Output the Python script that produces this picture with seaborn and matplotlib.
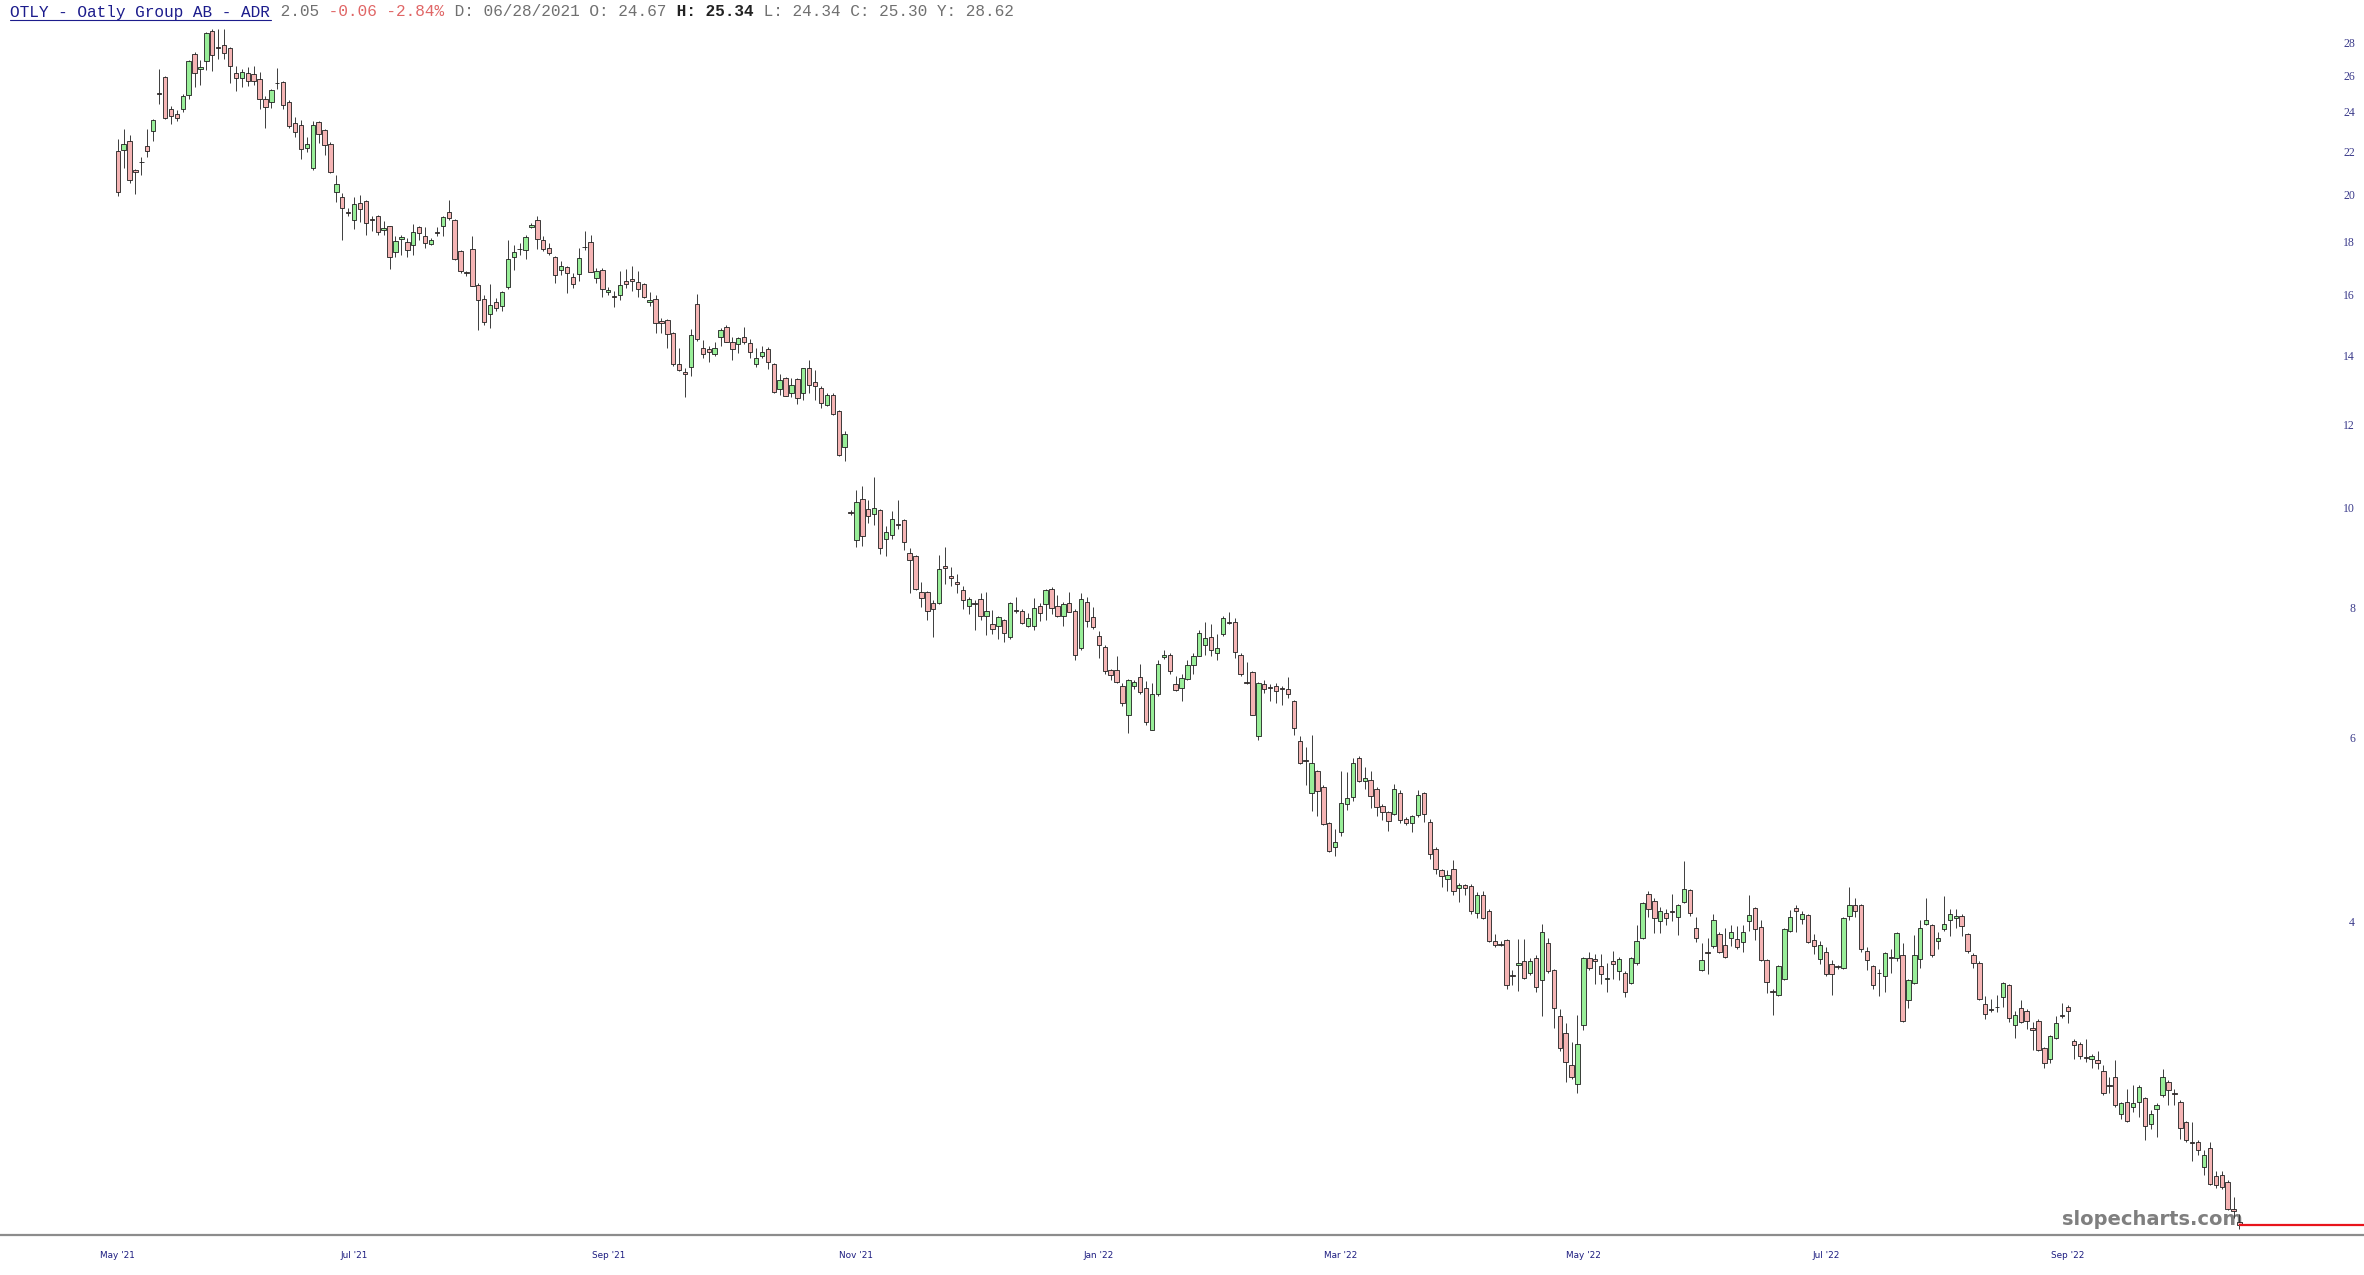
"""
OTLY daily candlesticks, log price axis, slopecharts-like layout.
"""

import numpy as np
import matplotlib
matplotlib.use("Agg")
import matplotlib.pyplot as plt
from matplotlib.ticker import FixedLocator, NullLocator, FixedFormatter
from matplotlib.lines import Line2D
import seaborn as sns

# daily OHLC, one value per trading session (May 2021 -> Oct 2022)
opens = [
    22.06, 22.14, 22.56, 21.15, 21.56, 22.32, 23.08, 25.11, 25.98, 24.21,
    23.94, 24.25, 24.98, 27.35, 26.46, 26.93, 28.80, 27.78, 27.94, 27.74,
    26.21, 25.96, 26.25, 26.17, 25.88, 24.79, 24.59, 25.69, 25.71, 24.61,
    23.50, 23.37, 22.24, 21.28, 23.54, 23.15, 22.44, 20.14, 19.96, 19.28,
    18.96, 19.68, 19.75, 19.00, 19.13, 18.52, 18.68, 17.65, 18.17, 18.03,
    17.94, 18.64, 18.30, 17.97, 18.45, 18.71, 19.28, 18.96, 17.68, 16.87,
    17.77, 16.42, 15.91, 15.39, 15.79, 15.65, 16.34, 17.45, 17.79, 17.72,
    18.66, 18.96, 18.14, 17.81, 17.46, 16.95, 17.08, 16.70, 16.81, 17.86,
    18.03, 16.67, 16.98, 16.15, 16.01, 16.04, 16.54, 16.62, 16.52, 16.44,
    15.80, 15.92, 15.16, 15.18, 14.75, 13.79, 13.54, 13.70, 15.73, 14.28,
    14.25, 14.09, 14.61, 14.96, 14.47, 14.41, 14.63, 14.42, 13.79, 14.02,
    14.25, 13.79, 13.03, 13.37, 12.91, 13.34, 12.91, 13.67, 13.24, 13.06,
    12.58, 12.86, 12.42, 11.47, 9.92, 9.33, 10.22, 10.00, 9.89, 9.98,
    9.35, 9.43, 9.66, 9.75, 9.06, 9.00, 8.31, 8.31, 8.12, 8.11,
    8.80, 8.61, 8.50, 8.35, 8.06, 8.11, 8.18, 7.89, 7.75, 7.71,
    7.81, 7.52, 7.99, 7.97, 7.71, 7.72, 8.06, 8.10, 8.37, 8.06,
    7.88, 8.11, 7.97, 7.34, 8.14, 7.86, 7.54, 7.37, 7.00, 6.99,
    6.76, 6.33, 6.75, 6.89, 6.72, 6.13, 6.63, 7.20, 7.23, 6.78,
    6.73, 6.86, 7.07, 7.22, 7.39, 7.53, 7.26, 7.57, 7.79, 7.78,
    7.24, 6.81, 6.96, 6.05, 6.79, 6.74, 6.75, 6.72, 6.71, 6.53,
    5.98, 5.73, 5.33, 5.59, 5.40, 4.99, 4.73, 4.89, 5.20, 5.28,
    5.76, 5.47, 5.49, 5.38, 5.18, 5.11, 5.09, 5.33, 5.03, 4.99,
    5.08, 5.33, 5.00, 4.71, 4.49, 4.41, 4.50, 4.32, 4.35, 4.34,
    4.09, 4.25, 4.10, 3.84, 3.815, 3.85, 3.56, 3.64, 3.67, 3.58,
    3.70, 3.52, 3.82, 3.60, 3.25, 3.13, 2.92, 2.80, 3.19, 3.70,
    3.69, 3.63, 3.53, 3.67, 3.59, 3.58, 3.50, 3.66, 3.87, 4.26,
    4.20, 4.01, 4.09, 4.105, 4.05, 4.19, 4.30, 3.95, 3.60, 3.75,
    3.80, 3.90, 3.81, 3.87, 3.86, 3.83, 4.01, 4.13, 3.96, 3.68,
    3.44, 3.41, 3.53, 3.93, 4.13, 4.03, 4.07, 3.85, 3.69, 3.75,
    3.65, 3.63, 3.62, 4.06, 4.16, 4.16, 3.76, 3.63, 3.58, 3.55,
    3.71, 3.70, 3.72, 3.37, 3.50, 3.69, 3.99, 3.98, 3.84, 3.94,
    4.02, 4.04, 4.06, 3.90, 3.72, 3.66, 3.34, 3.30, 3.32, 3.39,
    3.48, 3.19, 3.31, 3.29, 3.17, 3.22, 3.03, 2.96, 3.10, 3.26,
    3.32, 3.08, 3.06, 2.97, 2.96, 2.95, 2.88, 2.79, 2.84, 2.62,
    2.69, 2.66, 2.69, 2.71, 2.56, 2.65, 2.73, 2.81, 2.74, 2.69,
    2.57, 2.46, 2.46, 2.33, 2.43, 2.28, 2.29, 2.25, 2.12, 2.06,
]
highs = [
    22.69, 23.16, 22.86, 21.23, 21.79, 23.16, 23.71, 26.50, 26.05, 24.39,
    24.16, 25.07, 26.99, 27.49, 26.99, 28.73, 28.91, 28.95, 28.95, 27.80,
    26.65, 26.50, 26.60, 26.65, 26.30, 24.94, 25.35, 26.54, 25.77, 24.70,
    23.80, 23.63, 22.78, 23.57, 23.59, 23.20, 22.53, 20.92, 20.12, 19.46,
    19.96, 20.04, 19.82, 19.10, 19.17, 18.89, 18.71, 18.27, 18.34, 18.20,
    18.79, 18.71, 18.66, 18.20, 18.64, 19.10, 19.79, 19.00, 17.74, 16.94,
    18.27, 16.48, 16.06, 16.45, 15.94, 16.20, 18.11, 17.94, 18.00, 18.34,
    18.84, 19.10, 18.27, 18.00, 17.49, 17.29, 17.13, 16.85, 17.81, 18.48,
    18.34, 17.04, 17.04, 16.33, 16.18, 16.92, 17.00, 17.10, 16.93, 16.50,
    16.16, 16.06, 15.27, 15.21, 14.79, 14.28, 13.67, 14.90, 16.08, 14.52,
    14.34, 14.45, 14.93, 15.02, 14.61, 14.64, 14.95, 14.55, 14.28, 14.34,
    14.31, 13.82, 13.47, 13.39, 13.37, 13.37, 13.67, 13.89, 13.60, 13.12,
    12.91, 12.93, 12.44, 11.88, 9.98, 10.43, 10.51, 10.19, 10.73, 10.00,
    9.62, 9.96, 10.19, 9.78, 9.16, 9.02, 8.50, 8.33, 8.17, 9.02,
    9.19, 8.79, 8.66, 8.42, 8.23, 8.17, 8.29, 8.32, 7.99, 7.89,
    7.84, 8.14, 8.23, 8.00, 7.93, 8.21, 8.11, 8.38, 8.40, 8.27,
    8.14, 8.32, 8.00, 8.29, 8.23, 8.04, 7.63, 7.39, 7.02, 7.21,
    6.80, 6.86, 6.85, 7.09, 6.83, 6.80, 7.16, 7.32, 7.27, 6.90,
    6.93, 7.16, 7.26, 7.64, 7.78, 7.74, 7.57, 7.88, 7.95, 7.85,
    7.27, 7.13, 6.98, 6.82, 6.85, 6.78, 6.80, 6.75, 6.89, 6.55,
    6.05, 5.90, 6.06, 5.61, 5.42, 5.00, 4.92, 5.59, 5.58, 5.76,
    5.79, 5.64, 5.60, 5.40, 5.20, 5.12, 5.44, 5.36, 5.05, 5.08,
    5.36, 5.34, 5.03, 4.73, 4.50, 4.49, 4.59, 4.37, 4.36, 4.36,
    4.28, 4.29, 4.12, 3.90, 3.84, 3.86, 3.60, 3.86, 3.86, 3.70,
    3.72, 3.99, 3.87, 3.61, 3.30, 3.20, 3.07, 3.26, 3.71, 3.75,
    3.73, 3.73, 3.66, 3.76, 3.71, 3.59, 3.71, 3.98, 4.19, 4.29,
    4.22, 4.14, 4.12, 4.26, 4.17, 4.58, 4.31, 4.05, 3.82, 3.87,
    4.08, 3.92, 3.95, 3.98, 3.97, 3.98, 4.25, 4.14, 4.02, 3.69,
    3.45, 3.64, 3.95, 4.11, 4.16, 4.10, 4.08, 3.90, 3.84, 3.79,
    3.68, 3.64, 4.05, 4.33, 4.22, 4.17, 3.79, 3.64, 3.61, 3.75,
    3.77, 3.92, 3.82, 3.53, 3.89, 4.02, 4.22, 3.99, 3.92, 4.24,
    4.12, 4.12, 4.08, 3.91, 3.74, 3.67, 3.40, 3.38, 3.41, 3.51,
    3.49, 3.29, 3.37, 3.30, 3.21, 3.23, 3.04, 3.12, 3.25, 3.35,
    3.33, 3.09, 3.07, 3.09, 2.99, 3.01, 2.92, 2.84, 2.95, 2.69,
    2.77, 2.79, 2.79, 2.72, 2.64, 2.68, 2.89, 2.82, 2.77, 2.70,
    2.58, 2.57, 2.47, 2.42, 2.46, 2.31, 2.31, 2.26, 2.18, 2.10,
]
lows = [
    19.99, 21.28, 20.55, 20.06, 20.95, 21.79, 22.58, 24.52, 23.68, 23.45,
    23.59, 24.07, 24.76, 25.44, 25.54, 26.40, 26.34, 27.09, 27.05, 25.64,
    25.22, 25.44, 25.48, 25.54, 24.25, 23.25, 24.29, 25.35, 24.21, 23.23,
    22.78, 21.71, 22.03, 21.15, 22.49, 21.87, 21.04, 19.72, 18.14, 19.10,
    18.59, 18.85, 18.34, 18.48, 18.34, 18.34, 17.00, 17.46, 17.55, 17.46,
    17.55, 18.14, 17.81, 17.94, 18.27, 18.27, 18.96, 17.36, 16.85, 16.73,
    16.36, 14.86, 15.03, 14.92, 15.50, 15.50, 16.26, 16.98, 17.55, 17.40,
    18.62, 17.77, 17.70, 17.55, 16.50, 16.79, 16.12, 16.30, 16.57, 17.74,
    16.88, 16.48, 15.97, 16.06, 15.62, 15.86, 16.30, 16.20, 15.98, 15.96,
    15.67, 14.77, 14.77, 14.26, 13.72, 13.57, 12.81, 13.42, 14.50, 13.95,
    13.84, 14.03, 14.34, 14.45, 13.90, 14.13, 14.41, 13.97, 13.69, 13.97,
    13.62, 12.93, 12.87, 12.83, 12.81, 12.60, 12.72, 12.93, 12.72, 12.51,
    12.56, 12.31, 11.25, 11.11, 9.86, 9.18, 9.21, 9.69, 9.64, 9.04,
    9.00, 9.36, 9.57, 9.12, 8.30, 8.35, 8.05, 7.81, 7.53, 8.10,
    8.47, 8.43, 8.30, 8.00, 7.92, 7.64, 7.81, 7.56, 7.57, 7.49,
    7.45, 7.50, 7.93, 7.75, 7.70, 7.65, 7.80, 7.81, 7.92, 7.87,
    7.71, 7.95, 7.16, 7.31, 7.69, 7.66, 7.18, 6.94, 6.84, 6.80,
    6.46, 6.09, 6.71, 6.63, 6.20, 6.12, 6.60, 7.17, 6.94, 6.68,
    6.54, 6.84, 6.94, 7.21, 7.24, 7.21, 7.16, 7.54, 7.75, 7.19,
    6.90, 6.78, 6.33, 5.99, 6.65, 6.53, 6.51, 6.48, 6.58, 6.06,
    5.68, 5.43, 5.12, 5.07, 4.97, 4.68, 4.64, 4.85, 5.13, 5.24,
    5.46, 5.38, 5.16, 5.06, 5.02, 4.90, 5.08, 4.99, 4.97, 4.89,
    5.05, 5.00, 4.60, 4.45, 4.33, 4.29, 4.25, 4.19, 4.25, 4.08,
    4.04, 4.03, 3.83, 3.79, 3.80, 3.45, 3.48, 3.44, 3.53, 3.56,
    3.43, 3.25, 3.58, 3.17, 3.01, 2.81, 2.83, 2.74, 3.15, 3.60,
    3.49, 3.49, 3.43, 3.53, 3.52, 3.39, 3.49, 3.64, 3.86, 4.05,
    3.91, 3.91, 3.98, 4.01, 3.89, 4.18, 4.06, 3.83, 3.59, 3.57,
    3.78, 3.74, 3.70, 3.80, 3.77, 3.75, 3.93, 3.85, 3.67, 3.42,
    3.26, 3.40, 3.52, 3.92, 3.92, 3.99, 3.82, 3.73, 3.65, 3.55,
    3.41, 3.61, 3.61, 4.02, 4.05, 3.75, 3.60, 3.45, 3.40, 3.43,
    3.58, 3.67, 3.21, 3.31, 3.49, 3.62, 3.98, 3.71, 3.77, 3.93,
    3.88, 3.95, 3.88, 3.74, 3.62, 3.37, 3.23, 3.28, 3.28, 3.32,
    3.21, 3.10, 3.20, 3.16, 3.02, 3.01, 2.90, 2.93, 3.09, 3.24,
    3.20, 2.96, 2.96, 2.94, 2.90, 2.89, 2.73, 2.74, 2.66, 2.59,
    2.57, 2.63, 2.60, 2.47, 2.53, 2.49, 2.72, 2.67, 2.67, 2.48,
    2.46, 2.36, 2.39, 2.29, 2.235, 2.225, 2.22, 2.115, 2.08, 2.03,
]
closes = [
    20.17, 22.40, 20.70, 21.09, 21.53, 22.06, 23.66, 25.04, 23.75, 23.84,
    23.77, 24.94, 26.93, 26.25, 26.60, 28.67, 27.29, 27.74, 27.43, 26.67,
    25.96, 26.27, 25.77, 25.77, 24.76, 24.34, 25.26, 25.66, 24.43, 23.34,
    23.03, 22.16, 22.40, 23.37, 22.94, 22.36, 21.07, 20.50, 19.46, 19.25,
    19.64, 19.43, 18.82, 18.97, 18.44, 18.62, 17.45, 18.07, 18.24, 17.72,
    18.44, 18.41, 18.00, 18.14, 18.42, 19.06, 19.03, 17.38, 16.94, 16.84,
    16.38, 15.88, 15.11, 15.69, 15.59, 16.14, 17.37, 17.64, 17.77, 18.24,
    18.75, 18.17, 17.79, 17.60, 16.79, 17.10, 16.85, 16.45, 17.42, 17.84,
    16.89, 16.92, 16.28, 16.24, 15.99, 16.42, 16.43, 16.56, 16.26, 15.99,
    15.87, 15.08, 15.09, 14.72, 13.77, 13.59, 13.47, 14.68, 14.55, 14.10,
    14.15, 14.28, 14.85, 14.47, 14.23, 14.58, 14.47, 14.15, 13.97, 14.15,
    13.85, 12.96, 13.30, 12.84, 13.14, 12.79, 13.64, 13.14, 13.12, 12.65,
    12.87, 12.33, 11.27, 11.79, 9.90, 10.15, 9.41, 9.84, 10.02, 9.17,
    9.49, 9.78, 9.65, 9.29, 8.92, 8.37, 8.21, 7.98, 8.00, 8.75,
    8.77, 8.58, 8.47, 8.17, 8.18, 8.10, 7.88, 7.97, 7.67, 7.86,
    7.60, 8.12, 7.98, 7.77, 7.85, 8.02, 7.94, 8.35, 8.02, 7.88,
    8.09, 7.96, 7.23, 8.18, 7.80, 7.70, 7.39, 6.98, 6.92, 6.82,
    6.51, 6.85, 6.82, 6.66, 6.23, 6.63, 7.09, 7.23, 6.98, 6.70,
    6.87, 7.08, 7.22, 7.60, 7.51, 7.31, 7.34, 7.85, 7.77, 7.28,
    6.94, 6.80, 6.34, 6.80, 6.71, 6.73, 6.68, 6.71, 6.64, 6.15,
    5.69, 5.72, 5.70, 5.35, 4.98, 4.69, 4.78, 5.21, 5.27, 5.70,
    5.47, 5.51, 5.29, 5.17, 5.11, 5.01, 5.38, 5.02, 4.99, 5.06,
    5.31, 5.09, 4.66, 4.50, 4.43, 4.44, 4.29, 4.35, 4.32, 4.10,
    4.25, 4.04, 3.84, 3.81, 3.805, 3.48, 3.55, 3.66, 3.54, 3.67,
    3.47, 3.92, 3.59, 3.31, 3.03, 2.94, 2.84, 3.06, 3.70, 3.62,
    3.67, 3.57, 3.54, 3.65, 3.69, 3.43, 3.70, 3.84, 4.18, 4.12,
    4.04, 4.10, 4.04, 4.095, 4.16, 4.31, 4.09, 3.87, 3.68, 3.74,
    4.02, 3.75, 3.71, 3.92, 3.79, 3.92, 4.07, 3.94, 3.68, 3.51,
    3.43, 3.63, 3.94, 4.05, 4.10, 4.08, 3.83, 3.80, 3.81, 3.57,
    3.57, 3.625, 4.04, 4.16, 4.10, 3.77, 3.68, 3.48, 3.575, 3.74,
    3.70, 3.91, 3.22, 3.52, 3.72, 3.95, 4.02, 3.72, 3.87, 3.99,
    4.08, 4.06, 3.97, 3.76, 3.66, 3.38, 3.27, 3.295, 3.315, 3.50,
    3.24, 3.26, 3.21, 3.22, 3.15, 3.02, 2.93, 3.11, 3.20, 3.255,
    3.29, 3.05, 2.98, 2.965, 2.98, 2.93, 2.74, 2.785, 2.67, 2.68,
    2.58, 2.68, 2.78, 2.55, 2.62, 2.67, 2.84, 2.76, 2.735, 2.54,
    2.47, 2.455, 2.42, 2.39, 2.24, 2.235, 2.23, 2.12, 2.11, 2.05,
]

# x axis: month labels sit on the session closest to mid-month
month_labels = ["May '21", "Jul '21", "Sep '21", "Nov '21", "Jan '22",
                "Mar '22", "May '22", "Jul '22", "Sep '22"]
month_bars = [0, 40, 83, 125, 166, 207, 248, 289, 330]
price_ticks = [4, 6, 8, 10, 12, 14, 16, 18, 20, 22, 24, 26, 28]

header_parts = [
    ("OTLY - Oatly Group AB - ADR", "#1c1c8c", "normal"),
    (" 2.05", "#707070", "normal"),
    (" -0.06 -2.84%", "#e06666", "normal"),
    (" D: 06/28/2021 O: 24.67", "#707070", "normal"),
    (" H: 25.34", "#222222", "bold"),
    (" L: 24.34 C: 25.30 Y: 28.62", "#707070", "normal"),
]

W, H, DPI = 2364, 1275, 100
UP_FILL, DOWN_FILL = "#98ee98", "#f5b4b4"

sns.set_theme(style="white")
plt.rcParams["font.family"] = ["DejaVu Sans"]

o = np.array(opens); h = np.array(highs); l = np.array(lows); c = np.array(closes)
assert len(o) == len(h) == len(l) == len(c)
h = np.maximum(h, np.maximum(o, c))
l = np.minimum(l, np.minimum(o, c))
x = np.arange(len(c))
up = c >= o

fig = plt.figure(figsize=(W / DPI, H / DPI), dpi=DPI)
ax = fig.add_axes([0, 40 / H, 1, 1235 / H])
ax.set_facecolor("white")

ax.vlines(x, l, h, color="#3c3c3c", linewidth=0.7, zorder=2)
ax.bar(x, np.abs(c - o), bottom=np.minimum(o, c), width=0.74,
       color=np.where(up, UP_FILL, DOWN_FILL), edgecolor="#1e1e1e",
       linewidth=0.6, zorder=3)

ax.set_yscale("log")
ax.set_ylim(2.003, 30.84)
ax.set_xlim(-19.92, 380.08)

# last price marker line
ax.hlines(c[-1], x[-1], 380.08, color="#e8141c", linewidth=1.6, zorder=4)

# price labels sit inside the plot, right-aligned near the edge
ax.yaxis.set_major_locator(FixedLocator(price_ticks))
ax.yaxis.set_minor_locator(NullLocator())
ax.tick_params(axis="y", left=False, right=False, labelleft=False, labelright=False)
for p in price_ticks:
    ax.text(0.9962, p, f"{p:g}", transform=ax.get_yaxis_transform(),
            ha="right", va="center", fontsize=8.5, family="Liberation Serif",
            color="#3a3a8a")

ax.xaxis.set_major_locator(FixedLocator(month_bars))
ax.xaxis.set_major_formatter(FixedFormatter(month_labels))
ax.tick_params(axis="x", bottom=False, length=0, pad=11.5, labelsize=6.4,
               labelcolor="#1c1c80")

for side in ["top", "left", "right"]:
    ax.spines[side].set_visible(False)
ax.spines["bottom"].set_color("#8c8c8c")
ax.spines["bottom"].set_linewidth(1.6)
ax.grid(False)

# watermark, under the candles
ax.text(2243 / W, 1 - 1225 / H, "slopecharts.com", transform=fig.transFigure,
        ha="right", va="baseline", fontsize=14, fontweight="bold",
        color="#7f7f7f", zorder=1)

# header line in a monospace font, segments placed by character count
fs = 11.6
char_w = 0.6 * fs * DPI / 72
pos = 0
for text, color, weight in header_parts:
    fig.text((9.8 + pos * char_w) / W, 1 - 12 / H, text, ha="left", va="center",
             fontsize=fs, family="Liberation Mono", color=color, fontweight=weight)
    pos += len(text)
title_len = len(header_parts[0][0])
fig.add_artist(Line2D([9.8 / W, (9.8 + title_len * char_w) / W],
                      [1 - 20 / H, 1 - 20 / H], transform=fig.transFigure,
                      color="#1c1c8c", linewidth=0.8))

fig.savefig("out.png", dpi=DPI)
plt.close(fig)
